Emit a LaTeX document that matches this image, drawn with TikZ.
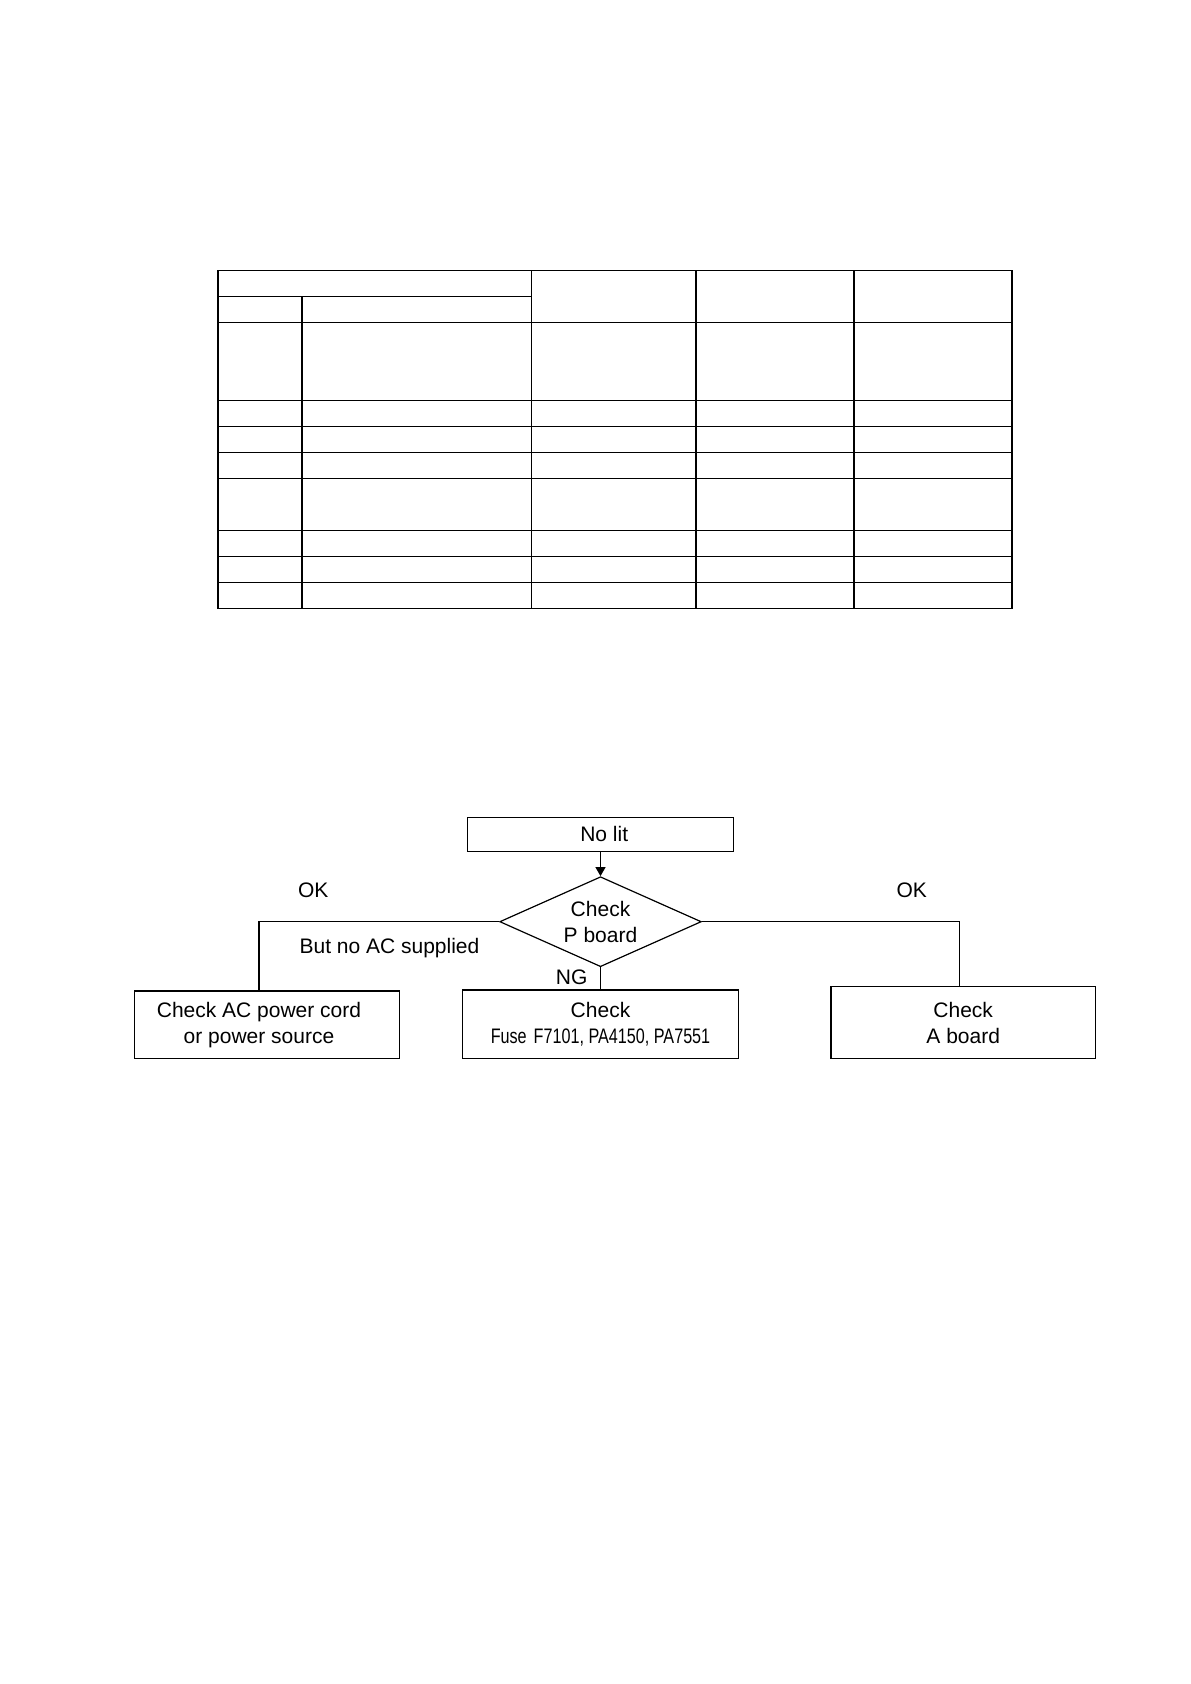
\documentclass[tikz,border=0pt]{standalone}
\usepackage{fontspec}
\setmainfont{Liberation Sans}
\newfontfamily\narrowfont[FakeStretch=0.77]{Liberation Sans}
\usetikzlibrary{arrows.meta,positioning,shapes.geometric}

\tikzset{
  flowbox/.style={draw,line width=0.6pt,align=center,inner sep=0pt},
  decision/.style={draw,diamond,aspect=2.2,inner sep=0pt,align=center,
    minimum width=100.8pt,minimum height=45pt},
  link/.style={line width=0.6pt},
}

\begin{document}
\begin{tikzpicture}[x=0.5pt,y=-0.5pt,font=\fontsize{10.5}{13}\selectfont,line width=0.6pt]
\useasboundingbox (0,0) rectangle (1190,1684);
% table grid
\draw (218,270.5) rectangle (1012,608.5);
\foreach \y in {322.5,400.5,426.5,452.5,478.5,530.5,556.5,582.5}
  \draw (218,\y) -- (1012,\y);
\draw (218,296.5) -- (531.5,296.5);
\draw (302,296.5) -- (302,608.5);
\foreach \x in {531.5,696,854}
  \draw (\x,270.5) -- (\x,608.5);

% flow chart
\node[flowbox,minimum width=132.8pt,minimum height=17pt] (nolit) at (600.5,834.3)
  {\hspace{3.7pt}No lit};
\node[decision] (pcheck) at (600.5,921.7) {Check\\P board};
\node[flowbox,minimum width=132.5pt,minimum height=33.9pt] (acbox) at (266.8,1024.8)
  {Check AC power cord\hspace*{7.8pt}\\or power source\hspace*{7.8pt}};
\node[flowbox,minimum width=137.8pt,minimum height=34.3pt] (fuse) at (600.5,1024.3)
  {Check\\{\narrowfont Fuse\hspace{3.5pt}F7101, PA4150, PA7551}};
\node[flowbox,minimum width=132.2pt,minimum height=36pt] (aboard) at (963.2,1022.7)
  {Check\\A board};

\draw[link,-{Triangle[width=5pt,length=4.5pt]}] (nolit) -- (pcheck);
\draw[link] (pcheck.west) -| ([xshift=-3.9pt]acbox.north);
\draw[link] (pcheck.south) -- (fuse.north);
\draw[link] (pcheck.east) -| ([xshift=-2pt]aboard.north);

\node (okleft) at (313.3,890.7) {OK};
\node[anchor=west,inner sep=0pt] (noac) at (299,948.3) {But no AC supplied};
\node (ng) at (571.7,977.7) {NG};
\node (okright) at (911.7,890.7) {OK};
\end{tikzpicture}
\end{document}
